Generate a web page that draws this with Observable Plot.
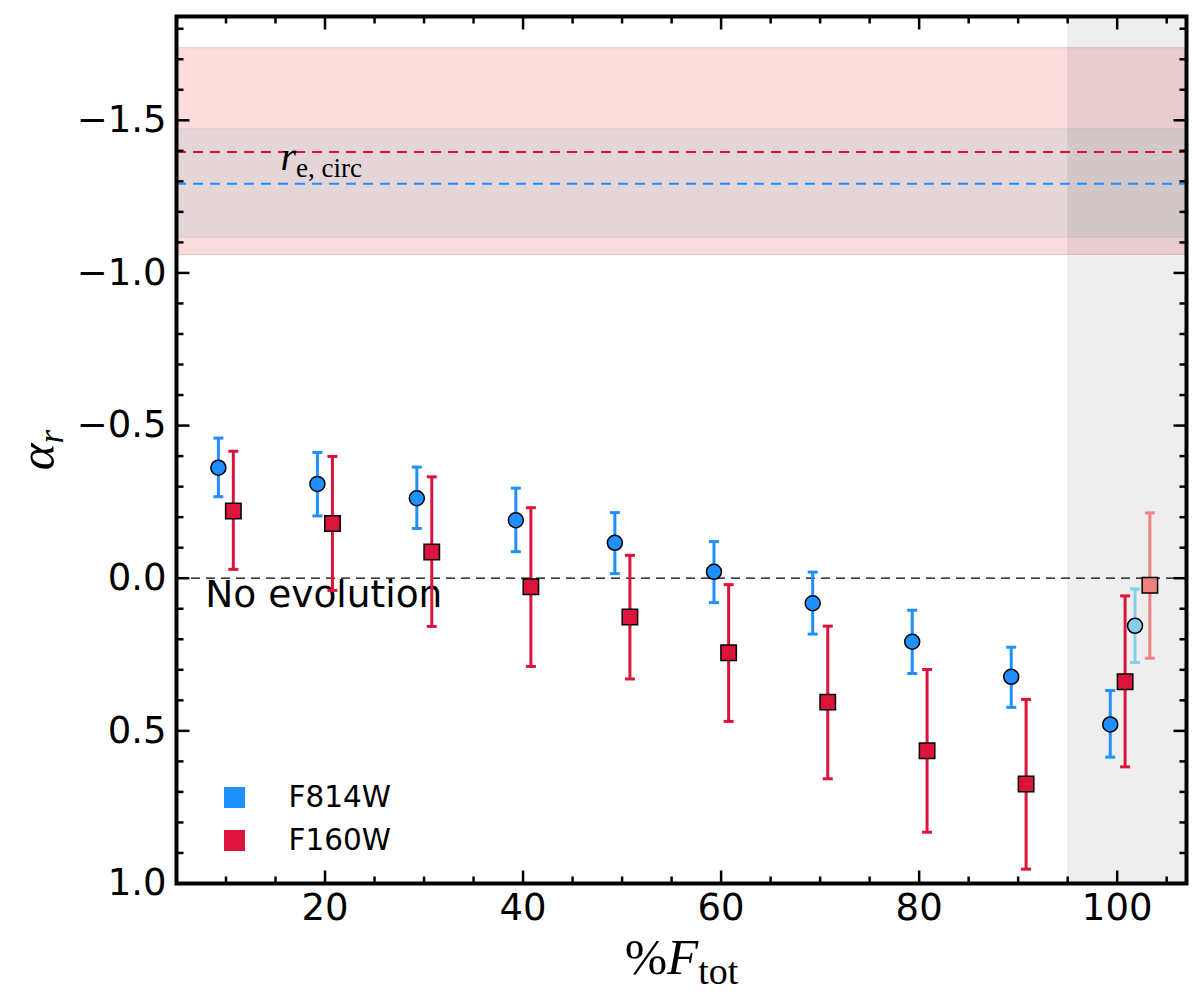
<!DOCTYPE html>
<html><head><meta charset="utf-8">
<script src="https://cdn.jsdelivr.net/npm/d3@7"></script>
<script src="https://cdn.jsdelivr.net/npm/@observablehq/plot@0.6"></script>
<style>body{margin:0;background:#fff} #chart{width:1200px;height:999px}</style>
</head><body><div id="chart"></div>
<script>
// ---- axes / ticks ----
const xDomain = [5, 107];
const yDomain = [-1.84, 1.0];
const xMajorTicks = [20, 40, 60, 80, 100];
const xMinorTicks = [5, 10, 15, 25, 30, 35, 45, 50, 55, 65, 70, 75, 85, 90, 95, 105];
const yMajorTicks = [-1.5, -1.0, -0.5, 0.0, 0.5, 1.0];
const yMinorTicks = [-1.8, -1.7, -1.6, -1.4, -1.3, -1.2, -1.1, -0.9, -0.8, -0.7, -0.6, -0.4, -0.3, -0.2, -0.1, 0.1, 0.2, 0.3, 0.4, 0.6, 0.7, 0.8, 0.9];

// ---- F814W (blue circles) ----
const f814X  = [9.23, 19.23, 29.27, 39.27, 49.27, 59.28, 69.25, 79.3, 89.3, 99.3];
const f814Y  = [-0.362, -0.309, -0.262, -0.190, -0.116, -0.021, 0.082, 0.208, 0.323, 0.479];
const f814Lo = [-0.459, -0.412, -0.364, -0.295, -0.215, -0.120, -0.020, 0.105, 0.226, 0.368];
const f814Hi = [-0.267, -0.204, -0.163, -0.087, -0.015, 0.080, 0.183, 0.312, 0.423, 0.586];

// ---- F160W (red squares) ----
const f160X  = [10.74, 20.75, 30.78, 40.79, 50.79, 60.76, 70.77, 80.8, 90.8, 100.8];
const f160Y  = [-0.220, -0.179, -0.086, 0.028, 0.127, 0.244, 0.406, 0.565, 0.674, 0.339];
const f160Lo = [-0.416, -0.399, -0.332, -0.231, -0.075, 0.021, 0.157, 0.299, 0.397, 0.058];
const f160Hi = [-0.029, 0.040, 0.158, 0.289, 0.330, 0.469, 0.657, 0.832, 0.953, 0.618];

// ---- faint extra points ----
const f814ExtraX = [101.8], f814ExtraY = [0.156], f814ExtraLo = [0.035], f814ExtraHi = [0.276];
const f160ExtraX = [103.3], f160ExtraY = [0.023], f160ExtraLo = [-0.214], f160ExtraHi = [0.262];

// ---- reference bands / lines ----
const f160Band = [-1.736, -1.059];
const f814Band = [-1.470, -1.116];
const f160Circ = -1.396;
const f814Circ = -1.292;
const greyRegion = [95, 107];
const noEvolution = 0.0;

const seriesNames = ["F814W", "F160W"];
const BLUE = "#1E90FF", RED = "#DC143C", LBLUE = "#87CEEB", LRED = "#F08080";

const rows = (X, Y, L, H) => X.map((x, i) => ({x, y: Y[i], lo: L[i], hi: H[i]}));
const blue = rows(f814X, f814Y, f814Lo, f814Hi);
const red = rows(f160X, f160Y, f160Lo, f160Hi);
const lblue = rows(f814ExtraX, f814ExtraY, f814ExtraLo, f814ExtraHi);
const lred = rows(f160ExtraX, f160ExtraY, f160ExtraLo, f160ExtraHi);

const capShape = {draw(ctx, l) { ctx.moveTo(-l / 2, 0); ctx.lineTo(l / 2, 0); }};
const tickShape = {draw(ctx, l) { ctx.moveTo(0, 0); ctx.lineTo(0, -l); }};

function errorMarks(data, color) {
  return [
    Plot.ruleX(data, {x: "x", y1: "lo", y2: "hi", stroke: color, strokeWidth: 3}),
    Plot.vector(data, {x: "x", y: "lo", length: 10, shape: capShape, anchor: "start", stroke: color, strokeWidth: 3, strokeLinecap: "butt"}),
    Plot.vector(data, {x: "x", y: "hi", length: 10, shape: capShape, anchor: "start", stroke: color, strokeWidth: 3, strokeLinecap: "butt"})
  ];
}
function tickMarks(vals, len, side) {
  const o = {length: len, shape: tickShape, anchor: "start", stroke: "black", strokeWidth: 2.5, strokeLinecap: "butt"};
  if (side === "left") return Plot.vector(vals, {...o, y: d => d, frameAnchor: "left", rotate: 90});
  if (side === "right") return Plot.vector(vals, {...o, y: d => d, frameAnchor: "right", rotate: -90});
  if (side === "bottom") return Plot.vector(vals, {...o, x: d => d, frameAnchor: "bottom", rotate: 0});
  return Plot.vector(vals, {...o, x: d => d, frameAnchor: "top", rotate: 180});
}

const chart = Plot.plot({
  width: 1200, height: 999,
  marginLeft: 176, marginRight: 14, marginTop: 16, marginBottom: 116,
  style: {fontFamily: "'DejaVu Sans', sans-serif", background: "white", overflow: "visible"},
  x: {domain: xDomain},
  y: {domain: yDomain, reverse: true},
  marks: [
    Plot.rect([f160Band], {y1: d => d[0], y2: d => d[1], fill: "#FADCDD", stroke: "#F0C2C6", strokeWidth: 1}),
    Plot.rect([f814Band], {y1: d => d[0], y2: d => d[1], fill: "#E3D5D8", stroke: "#D8C6CA", strokeWidth: 1}),
    Plot.rect([greyRegion], {x1: d => d[0], x2: d => d[1], fill: "#000", fillOpacity: 0.065}),
    Plot.ruleY([f160Circ], {stroke: RED, strokeWidth: 2, strokeDasharray: "10,7"}),
    Plot.ruleY([f814Circ], {stroke: BLUE, strokeWidth: 2, strokeDasharray: "10,7"}),
    Plot.ruleY([noEvolution], {stroke: "black", strokeWidth: 1.2, strokeDasharray: "9,6"}),
    Plot.text(["No evolution"], {x: 7.9, y: 0.094, textAnchor: "start", lineAnchor: "bottom", fontSize: 37.5, fill: "black"}),
    ...errorMarks(blue, BLUE),
    Plot.dot(blue, {x: "x", y: "y", r: 7.5, fill: BLUE, stroke: "black", strokeWidth: 1.5}),
    ...errorMarks(red, RED),
    Plot.dot(red, {x: "x", y: "y", symbol: "square", r: 8.7, fill: RED, stroke: "black", strokeWidth: 1.5}),
    ...errorMarks(lblue, LBLUE),
    Plot.dot(lblue, {x: "x", y: "y", r: 7.5, fill: LBLUE, stroke: "black", strokeWidth: 1.5}),
    ...errorMarks(lred, LRED),
    Plot.dot(lred, {x: "x", y: "y", symbol: "square", r: 8.7, fill: LRED, stroke: "black", strokeWidth: 1.5}),
    Plot.text(["re,circ"], {x: 15.5, y: -1.337, textAnchor: "start", lineAnchor: "bottom", fontSize: 40, fontFamily: "'Liberation Serif', serif", fill: "black"}),
    // legend
    Plot.dot([seriesNames[0]], {frameAnchor: "bottom-left", dx: 58, dy: -86, symbol: "square", r: 11.85, fill: BLUE}),
    Plot.dot([seriesNames[1]], {frameAnchor: "bottom-left", dx: 58, dy: -43, symbol: "square", r: 11.85, fill: RED}),
    Plot.text([seriesNames[0]], {frameAnchor: "bottom-left", dx: 112, dy: -86, text: d => d, textAnchor: "start", lineAnchor: "middle", fontSize: 29.5, fill: "black"}),
    Plot.text([seriesNames[1]], {frameAnchor: "bottom-left", dx: 112, dy: -43, text: d => d, textAnchor: "start", lineAnchor: "middle", fontSize: 29.5, fill: "black"}),
    // axes
    Plot.axisX(xMajorTicks, {tickSize: 0, tickPadding: 10, fontSize: 37, tickFormat: d => String(d), label: null}),
    Plot.axisY(yMajorTicks, {tickSize: 0, tickPadding: 10, fontSize: 37, tickFormat: d3.format(".1f"), label: null}),
    tickMarks(yMajorTicks, 13, "left"), tickMarks(yMinorTicks, 7, "left"),
    tickMarks(yMajorTicks, 13, "right"), tickMarks(yMinorTicks, 7, "right"),
    tickMarks(xMajorTicks, 13, "bottom"), tickMarks(xMinorTicks, 7, "bottom"),
    tickMarks(xMajorTicks, 13, "top"), tickMarks(xMinorTicks, 7, "top"),
    Plot.text(["%Ftot"], {frameAnchor: "bottom", dy: 90, textAnchor: "middle", lineAnchor: "bottom", fontSize: 51, fontFamily: "'Liberation Serif', serif", fill: "black"}),
    Plot.text(["αr"], {frameAnchor: "left", dx: -123, rotate: -90, textAnchor: "middle", lineAnchor: "bottom", fontSize: 51, fontFamily: "'Liberation Serif', serif", fill: "black"}),
    Plot.frame({stroke: "black", strokeWidth: 4})
  ]
});

function mathify(svg, key, parts) {
  svg.querySelectorAll("text").forEach(t => {
    if (t.textContent === key) {
      t.textContent = "";
      for (const p of parts) {
        const s = document.createElementNS("http://www.w3.org/2000/svg", "tspan");
        s.textContent = p.t;
        if (p.italic) s.setAttribute("font-style", "italic");
        if (p.size) s.setAttribute("font-size", p.size);
        if (p.dy) s.setAttribute("dy", p.dy);
        t.appendChild(s);
      }
    }
  });
}
mathify(chart, "%Ftot", [{t: "%"}, {t: "F", italic: true}, {t: "tot", size: 38, dy: 10}]);
mathify(chart, "αr", [{t: "α", italic: true}, {t: "r", italic: true, size: 35, dy: 9}]);
mathify(chart, "re,circ", [{t: "r", italic: true}, {t: "e, circ", size: 27, dy: 7}]);

document.getElementById("chart").appendChild(chart);
</script>
</body></html>
